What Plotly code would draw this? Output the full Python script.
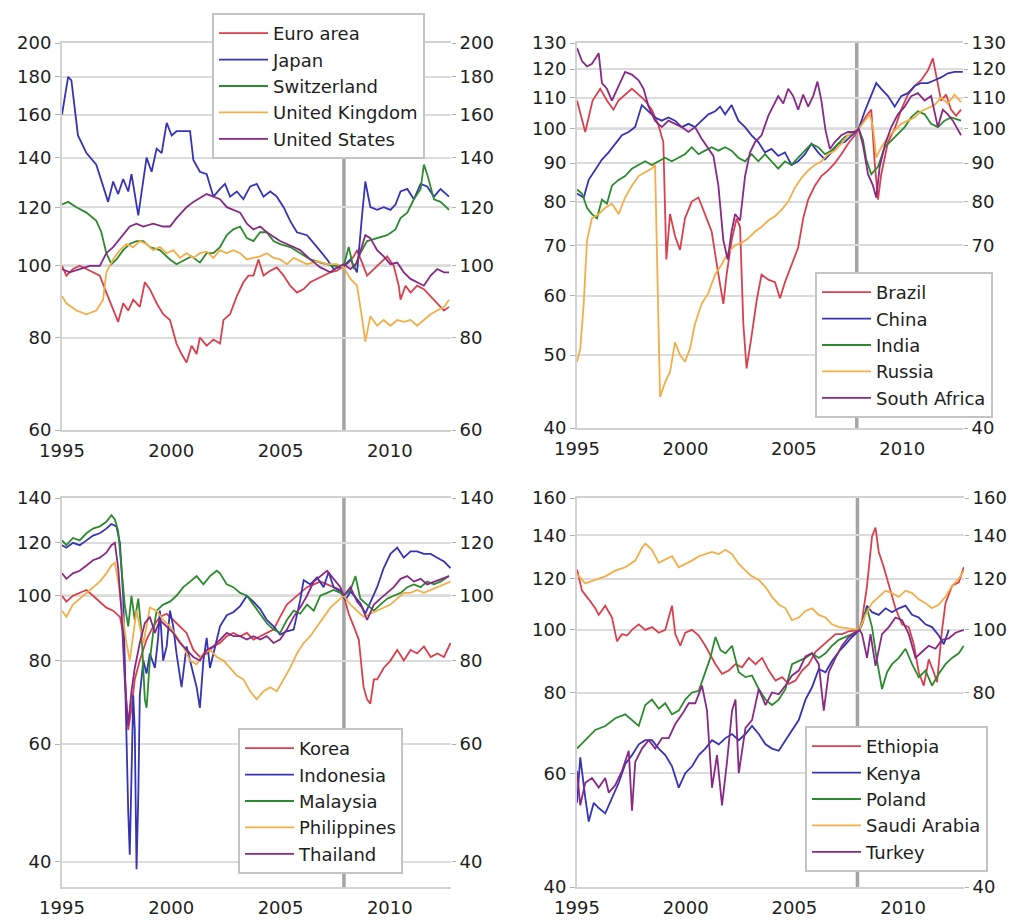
import math
import plotly.graph_objects as go

# ---------------- data (year, index 2008 = 100) ----------------
# Panel 1
EURO_AREA = [(1995.00,100),(1995.20,97),(1995.50,99),(1995.81,100),(1996.12,99),(1996.42,98),(1996.73,97),(1997.03,92),(1997.34,87.5),(1997.57,84),(1997.80,89),(1998.03,87),(1998.26,90),(1998.56,88),(1998.79,95),(1999.02,93),(1999.33,89),(1999.63,86),(1999.94,84.5),(2000.24,78.5),(2000.47,76),(2000.70,74),(2000.93,78),(2001.16,76),(2001.31,80),(2001.62,78),(2001.93,79.5),(2002.23,78.5),(2002.39,84.5),(2002.69,86),(2003.00,91),(2003.30,95),(2003.53,97),(2003.76,97),(2003.99,102),(2004.22,97),(2004.53,98.5),(2004.83,99.5),(2005.14,97),(2005.44,94),(2005.75,92),(2006.06,93),(2006.36,95),(2006.67,96),(2006.97,97),(2007.28,98),(2007.58,98.5),(2007.89,100),(2008.12,101),(2008.35,103),(2008.50,105),(2008.73,101),(2008.96,97),(2009.27,99),(2009.57,101),(2009.88,103),(2010.18,100),(2010.41,94),(2010.49,90),(2010.72,94),(2010.95,92),(2011.25,94),(2011.56,93),(2011.87,91),(2012.17,89),(2012.48,87),(2012.71,88)]
JAPAN = [(1995.00,160),(1995.28,180),(1995.43,178),(1995.73,150),(1996.12,142),(1996.57,137),(1997.11,122),(1997.34,130),(1997.57,125),(1997.80,131),(1998.03,126),(1998.18,133),(1998.49,117),(1998.72,130),(1998.87,140),(1999.10,134),(1999.33,144),(1999.56,142),(1999.79,156),(2000.02,150),(2000.24,152),(2000.47,152),(2000.86,152),(2001.01,139),(2001.31,134),(2001.62,133),(2001.93,124),(2002.23,127),(2002.46,129),(2002.69,124),(2003.00,126),(2003.30,123),(2003.61,128),(2003.91,129),(2004.22,124),(2004.53,126),(2004.83,124),(2005.14,120),(2005.44,115),(2005.75,111),(2006.21,110),(2006.67,106),(2007.13,102),(2007.43,99),(2007.89,100),(2008.20,102),(2008.50,98),(2008.73,117),(2008.88,130),(2009.11,120),(2009.42,119),(2009.72,120),(2010.03,119),(2010.26,121),(2010.49,126),(2010.80,127),(2011.10,123),(2011.41,129),(2011.71,128),(2012.02,124),(2012.32,127),(2012.71,124)]
SWITZERLAND = [(1995.00,121),(1995.28,122),(1995.66,120),(1996.12,118),(1996.57,115),(1996.80,111),(1997.03,104),(1997.26,100.5),(1997.49,102),(1997.80,105),(1998.10,107),(1998.41,108),(1998.72,108),(1999.02,106),(1999.48,105),(1999.94,102),(2000.24,100.5),(2000.63,102),(2000.93,103),(2001.31,101),(2001.62,104),(2001.93,104),(2002.23,106),(2002.54,110),(2002.84,112),(2003.15,113),(2003.46,109),(2003.76,108),(2004.07,111),(2004.37,111),(2004.68,108),(2004.98,107),(2005.44,106),(2005.90,104),(2006.36,102),(2006.82,101),(2007.43,100),(2007.89,100),(2008.12,106),(2008.35,99),(2008.65,104),(2008.96,108),(2009.42,109),(2009.88,110),(2010.26,112),(2010.49,116),(2010.80,118),(2011.10,123),(2011.41,127),(2011.56,137),(2011.71,133),(2012.02,123),(2012.32,122),(2012.71,119)]
UNITED_KINGDOM = [(1995.00,91),(1995.20,89),(1995.66,87),(1996.12,86),(1996.57,87),(1996.88,90),(1997.03,98),(1997.34,102),(1997.65,105),(1997.95,107),(1998.26,106),(1998.56,108),(1998.87,107),(1999.17,105),(1999.48,106),(1999.79,104),(2000.09,105),(2000.40,102.5),(2000.70,104),(2001.01,102.5),(2001.31,104),(2001.62,104.5),(2001.93,102.5),(2002.23,105),(2002.54,104),(2002.84,105),(2003.15,104),(2003.46,102),(2003.76,102.5),(2004.07,103),(2004.37,104),(2004.68,102.5),(2004.98,102),(2005.29,100.5),(2005.60,102.5),(2005.90,101.5),(2006.21,100.5),(2006.67,101.5),(2007.13,100.5),(2007.58,100.5),(2007.89,99.5),(2008.20,96),(2008.50,94),(2008.73,85),(2008.88,79),(2009.11,85.5),(2009.42,83),(2009.72,84.5),(2010.03,83),(2010.34,84.5),(2010.64,84),(2010.95,84.5),(2011.25,83),(2011.56,84.5),(2011.87,86),(2012.17,87),(2012.48,88),(2012.71,90)]
UNITED_STATES = [(1995.00,99),(1995.35,98),(1995.81,99),(1996.27,100),(1996.73,100),(1997.03,104),(1997.34,106),(1997.80,110),(1998.10,113),(1998.41,114),(1998.72,113),(1999.17,114),(1999.63,113),(1999.94,113),(2000.24,116),(2000.70,120),(2001.01,122),(2001.31,123.5),(2001.62,125),(2001.93,124),(2002.23,123),(2002.54,120),(2002.84,119),(2003.15,118),(2003.46,114),(2003.76,112),(2004.07,113),(2004.37,111),(2004.68,109.5),(2004.98,108),(2005.29,107),(2005.60,106),(2005.90,105),(2006.36,102),(2006.82,99.5),(2007.28,98),(2007.58,99.5),(2007.89,100.5),(2008.20,99),(2008.50,101),(2008.73,106),(2008.88,110),(2009.11,109),(2009.42,105),(2009.72,103),(2010.03,100.5),(2010.34,101),(2010.64,98),(2010.95,96),(2011.25,95),(2011.56,94),(2011.87,97),(2012.17,99),(2012.48,98),(2012.71,98)]

# Panel 2
BRAZIL = [(1995.00,109),(1995.38,99),(1995.72,109),(1996.07,113),(1996.38,109),(1996.68,106),(1996.91,109),(1997.22,111),(1997.53,113),(1997.84,111),(1998.14,109),(1998.45,106),(1998.76,101),(1998.98,96),(1999.12,67),(1999.29,77),(1999.52,72),(1999.75,69),(1999.98,76),(2000.29,80),(2000.60,81),(2000.90,77),(2001.21,73),(2001.52,64),(2001.75,58.5),(2001.90,64),(2002.13,71),(2002.36,76),(2002.52,74),(2002.67,55),(2002.82,48),(2003.05,53),(2003.28,59),(2003.51,64),(2003.82,63),(2004.13,62.5),(2004.36,59.5),(2004.59,62.5),(2004.89,66),(2005.20,69.5),(2005.43,76),(2005.66,80.5),(2005.97,84),(2006.27,86.5),(2006.58,88),(2006.89,90),(2007.19,92.5),(2007.50,95.5),(2007.81,98),(2007.99,100),(2008.19,102),(2008.34,104),(2008.57,106),(2008.73,90),(2008.88,80.5),(2009.03,87),(2009.19,91.5),(2009.34,96),(2009.65,100),(2009.95,106),(2010.26,111),(2010.57,114),(2010.87,116),(2011.18,119.5),(2011.41,124),(2011.64,114),(2011.79,109),(2012.02,111),(2012.25,106),(2012.48,104),(2012.71,106)]
CHINA = [(1995.00,82),(1995.31,81),(1995.54,85.5),(1995.84,88),(1996.15,91),(1996.46,93),(1996.76,95.5),(1997.07,98),(1997.38,99),(1997.68,100.5),(1997.99,107.5),(1998.30,105.5),(1998.60,103.5),(1998.91,102.5),(1999.22,103.5),(1999.52,102.5),(1999.83,100.5),(2000.14,101.5),(2000.44,100.5),(2000.75,102.5),(2001.06,104.5),(2001.37,105.5),(2001.60,107),(2001.83,104.5),(2002.13,107.5),(2002.44,102.5),(2002.75,100.5),(2003.05,98),(2003.36,96),(2003.67,93),(2003.97,94),(2004.28,92),(2004.59,93),(2004.89,89.5),(2005.20,90.5),(2005.51,92.5),(2005.81,95.5),(2006.12,93),(2006.43,91),(2006.73,93),(2007.04,95.5),(2007.35,96),(2007.65,98),(2007.99,100),(2008.27,105.5),(2008.57,110.5),(2008.80,115),(2009.03,113),(2009.34,110.5),(2009.65,107),(2009.95,110.5),(2010.26,111.5),(2010.57,114),(2010.87,115),(2011.18,115),(2011.49,116),(2011.79,117),(2012.10,118.5),(2012.41,119),(2012.79,119)]
INDIA = [(1995.00,83),(1995.23,82),(1995.46,78.5),(1995.69,77),(1995.92,76),(1996.15,80.5),(1996.38,79.5),(1996.61,84),(1996.92,85.5),(1997.22,86.5),(1997.53,88.5),(1997.84,89.5),(1998.14,90.5),(1998.45,89.5),(1998.76,90.5),(1999.06,91.5),(1999.37,90.5),(1999.68,91.5),(1999.98,92.5),(2000.29,94.5),(2000.60,92.5),(2000.90,93.5),(2001.21,94.5),(2001.52,93.5),(2001.83,94.5),(2002.13,93.5),(2002.44,91.5),(2002.75,90.5),(2003.05,92.5),(2003.36,90.5),(2003.67,92.5),(2003.97,90.5),(2004.28,88.5),(2004.59,90.5),(2004.89,89.5),(2005.20,91.5),(2005.51,93.5),(2005.81,95.5),(2006.12,94.5),(2006.43,92.5),(2006.73,93.5),(2007.04,95.5),(2007.35,97.5),(2007.65,98.5),(2007.99,100),(2008.19,96.5),(2008.34,91),(2008.57,87),(2008.88,89),(2009.19,94.5),(2009.49,96.5),(2009.80,98.5),(2010.11,100.5),(2010.41,103.5),(2010.72,105.5),(2011.03,104.5),(2011.33,101.5),(2011.64,100.5),(2011.95,102.5),(2012.25,103.5),(2012.71,102.5)]
RUSSIA = [(1995.00,49),(1995.15,51),(1995.31,58.5),(1995.46,71),(1995.69,76),(1996.00,77),(1996.30,78.5),(1996.61,79.5),(1996.92,77),(1997.22,81),(1997.53,84),(1997.84,86.5),(1998.14,87.5),(1998.45,88.5),(1998.60,89.5),(1998.73,58.5),(1998.83,44),(1999.06,46),(1999.29,47.5),(1999.52,52),(1999.75,50),(1999.98,49),(2000.21,51),(2000.44,55),(2000.75,58.5),(2001.06,60.5),(2001.37,64),(2001.67,66),(2001.98,68.5),(2002.29,70),(2002.59,70.5),(2002.90,71.5),(2003.21,73),(2003.51,74),(2003.82,75.5),(2004.13,76.5),(2004.43,78),(2004.74,80),(2005.05,83.5),(2005.35,86),(2005.66,88),(2005.97,89.5),(2006.27,90.5),(2006.58,92.5),(2006.89,93.5),(2007.19,95.5),(2007.50,98),(2007.99,100),(2008.27,102.5),(2008.50,104.5),(2008.65,100.5),(2008.80,91.5),(2009.03,94.5),(2009.34,97.5),(2009.65,99.5),(2009.95,101.5),(2010.26,102.5),(2010.57,103.5),(2010.87,105.5),(2011.18,106.5),(2011.49,107.5),(2011.79,110),(2012.10,108),(2012.41,111),(2012.71,108.5)]
SOUTH_AFRICA = [(1995.00,128),(1995.23,123),(1995.46,121),(1995.69,122),(1996.00,126),(1996.15,115),(1996.38,113),(1996.61,109),(1996.92,114),(1997.22,119),(1997.53,118),(1997.84,116),(1998.07,113),(1998.30,107),(1998.60,102.5),(1998.91,100.5),(1999.22,102.5),(1999.52,101.5),(1999.83,100.5),(2000.14,99),(2000.44,100.5),(2000.75,97),(2001.06,94),(2001.29,92),(2001.52,84),(2001.75,71),(2001.95,67),(2002.13,73),(2002.29,77),(2002.52,75.5),(2002.75,86.5),(2002.98,93),(2003.21,96),(2003.51,98),(2003.82,104),(2004.05,107),(2004.28,110.5),(2004.51,108),(2004.74,113),(2004.97,110.5),(2005.20,106),(2005.43,111),(2005.66,107),(2005.89,110.5),(2006.09,115.5),(2006.27,109),(2006.46,99.5),(2006.66,94),(2006.89,96),(2007.19,98),(2007.50,99),(2007.81,99),(2007.99,100),(2008.19,95),(2008.42,87),(2008.65,84),(2008.80,81),(2008.96,89),(2009.19,95),(2009.49,100.5),(2009.80,104.5),(2010.11,107),(2010.41,110.5),(2010.72,111.5),(2011.03,109),(2011.33,110.5),(2011.64,100.5),(2011.87,106),(2012.10,104.5),(2012.33,102.5),(2012.71,98)]

# Panel 3
KOREA = [(1995.00,100),(1995.20,98),(1995.50,100),(1995.81,101),(1996.12,102),(1996.42,100),(1996.73,98),(1997.03,96),(1997.34,95),(1997.65,93),(1997.80,88),(1997.95,68),(1998.03,63),(1998.18,68),(1998.33,75),(1998.56,80),(1998.87,86),(1999.17,90),(1999.48,93),(1999.79,94),(2000.09,92),(2000.40,90),(2000.70,88),(2001.01,83),(2001.31,81),(2001.62,82),(2001.93,84),(2002.23,85),(2002.54,87),(2002.84,88),(2003.15,87),(2003.46,88),(2003.76,86),(2004.07,87),(2004.37,88),(2004.68,89),(2004.98,93),(2005.29,97),(2005.60,99),(2005.90,101),(2006.21,103),(2006.52,104),(2006.82,105),(2007.13,104),(2007.43,103),(2007.74,102),(2007.89,100),(2008.12,94),(2008.35,90),(2008.58,86),(2008.80,73),(2008.96,70),(2009.11,69),(2009.27,75),(2009.42,75),(2009.72,78),(2010.03,80),(2010.34,83),(2010.64,80),(2010.95,83),(2011.25,82),(2011.56,84),(2011.87,81),(2012.17,82),(2012.48,81),(2012.78,85)]
INDONESIA = [(1995.00,119),(1995.20,118),(1995.50,120),(1995.81,119),(1996.12,121),(1996.42,123),(1996.73,124),(1997.03,126),(1997.26,128),(1997.49,127),(1997.65,120),(1997.80,100),(1997.87,80),(1997.95,60),(1998.03,47.5),(1998.10,41),(1998.18,57),(1998.26,71),(1998.33,63),(1998.41,39),(1998.49,50),(1998.56,71),(1998.72,80),(1998.87,76.5),(1999.02,82),(1999.25,78),(1999.40,86.5),(1999.48,95),(1999.63,80),(1999.79,84),(1999.94,95),(2000.09,90),(2000.24,82),(2000.47,73),(2000.70,84),(2000.93,78),(2001.16,73),(2001.31,68),(2001.47,80),(2001.62,86.5),(2001.77,78),(2001.93,82),(2002.23,90),(2002.54,93.5),(2002.84,94.5),(2003.15,96.5),(2003.46,100),(2003.76,98),(2004.07,95.5),(2004.37,92),(2004.68,90),(2004.98,87.5),(2005.29,88.5),(2005.60,89),(2005.90,98.5),(2006.06,105.5),(2006.36,104),(2006.67,106.5),(2006.97,103),(2007.20,108.5),(2007.43,103),(2007.74,101.5),(2007.97,98.5),(2008.20,101.5),(2008.43,99.5),(2008.65,97.5),(2008.88,94),(2009.11,97.5),(2009.42,103),(2009.72,110),(2010.03,115.5),(2010.34,118),(2010.64,114),(2010.95,116.5),(2011.25,116.5),(2011.56,115.5),(2011.87,115.5),(2012.17,114),(2012.48,112.5),(2012.78,110)]
MALAYSIA = [(1995.00,121),(1995.20,119),(1995.50,122),(1995.81,121),(1996.12,124),(1996.42,126),(1996.73,127),(1997.03,129),(1997.26,132),(1997.42,130),(1997.57,125),(1997.72,110),(1997.87,97),(1998.03,90),(1998.18,100),(1998.33,92),(1998.49,99),(1998.64,88),(1998.79,70),(1998.87,68),(1999.02,80),(1999.17,88),(1999.33,95),(1999.63,97),(1999.94,98),(2000.24,100),(2000.55,103),(2000.86,105),(2001.16,107),(2001.47,104),(2001.77,107),(2002.08,109),(2002.23,108),(2002.54,104),(2002.84,103),(2003.15,101),(2003.46,100),(2003.76,97),(2004.07,94),(2004.37,91),(2004.68,89),(2004.98,88),(2005.29,92),(2005.60,95),(2005.90,94),(2006.21,97),(2006.52,95),(2006.82,100),(2007.13,101),(2007.43,102),(2007.74,101),(2007.89,100),(2008.20,102),(2008.43,107),(2008.65,99),(2008.96,97),(2009.27,95),(2009.57,97),(2009.88,99),(2010.18,100),(2010.49,101),(2010.80,103),(2011.10,104),(2011.41,103),(2011.71,105),(2012.02,104),(2012.32,105),(2012.71,107)]
PHILIPPINES = [(1995.00,95),(1995.20,93),(1995.50,97),(1995.81,99),(1996.12,101),(1996.42,103),(1996.73,105),(1997.03,108),(1997.26,111),(1997.42,112),(1997.57,105),(1997.80,92),(1997.95,85),(1998.10,80),(1998.26,88),(1998.41,95),(1998.56,90),(1998.72,85),(1998.87,90),(1999.02,96),(1999.33,95),(1999.63,92),(1999.94,90),(2000.24,87),(2000.55,84),(2000.86,80),(2001.16,79),(2001.47,82),(2001.77,83),(2002.08,81),(2002.39,80),(2002.69,78),(2003.00,76),(2003.30,75),(2003.61,72),(2003.91,70),(2004.22,72),(2004.53,73),(2004.83,72),(2005.14,75),(2005.44,78),(2005.75,82),(2006.06,85),(2006.36,87),(2006.67,90),(2006.97,93),(2007.28,96),(2007.58,98),(2007.89,100),(2008.20,97),(2008.50,95),(2008.80,93),(2009.11,94),(2009.42,95),(2009.72,96),(2010.03,97),(2010.34,99),(2010.64,101),(2010.95,101),(2011.25,102),(2011.56,101),(2011.87,102),(2012.17,103),(2012.48,104),(2012.78,105)]
THAILAND = [(1995.00,108),(1995.20,106),(1995.50,108),(1995.81,109),(1996.12,111),(1996.42,113),(1996.73,114),(1997.03,116),(1997.26,119),(1997.42,120),(1997.57,110),(1997.72,95),(1997.87,75),(1998.03,64),(1998.18,72),(1998.33,78),(1998.56,85),(1998.79,91),(1999.02,93),(1999.25,88),(1999.48,92),(1999.79,90),(2000.09,88),(2000.40,85),(2000.70,83),(2001.01,81),(2001.31,80),(2001.62,83),(2001.93,84),(2002.23,86),(2002.54,88),(2002.84,87),(2003.15,87),(2003.46,86),(2003.76,87),(2004.07,86),(2004.37,87),(2004.68,85),(2004.98,86),(2005.29,89),(2005.60,93),(2005.90,96),(2006.21,100),(2006.52,105),(2006.82,107),(2007.13,109),(2007.43,106),(2007.74,103),(2007.89,100),(2008.20,103),(2008.50,98),(2008.73,96),(2008.96,92),(2009.27,97),(2009.57,99),(2009.88,101),(2010.18,103),(2010.49,106),(2010.80,107),(2011.10,105),(2011.41,106),(2011.71,104),(2012.02,105),(2012.32,106),(2012.71,107)]

# Panel 4
ETHIOPIA = [(1995.00,124),(1995.23,115),(1995.54,111.5),(1995.84,108),(1996.00,105.5),(1996.30,109),(1996.61,104.5),(1996.84,96),(1997.07,98.5),(1997.30,98),(1997.53,100),(1997.84,102),(1998.14,100),(1998.45,101),(1998.76,99),(1999.06,100),(1999.37,109),(1999.52,98.5),(1999.75,94.5),(1999.98,99),(2000.29,100),(2000.60,98),(2000.90,94.5),(2001.13,91.5),(2001.37,88.5),(2001.67,85.5),(2001.98,86.5),(2002.29,88.5),(2002.59,87.5),(2002.90,90.5),(2003.21,88.5),(2003.51,90.5),(2003.82,86.5),(2004.13,83.5),(2004.43,84.5),(2004.74,82.5),(2005.05,83.5),(2005.35,86.5),(2005.66,88.5),(2005.97,92.5),(2006.27,94.5),(2006.58,96.5),(2006.89,98.5),(2007.19,98.5),(2007.50,99.5),(2007.99,100),(2008.11,103.5),(2008.34,117),(2008.57,139.5),(2008.73,144),(2008.88,132),(2009.11,125),(2009.34,117),(2009.65,108),(2009.95,102),(2010.26,101),(2010.49,95),(2010.72,86),(2010.95,82),(2011.18,90),(2011.41,86),(2011.56,83),(2011.79,100),(2011.95,110),(2012.25,117),(2012.56,118.5),(2012.79,125)]
KENYA = [(1995.00,54),(1995.15,63.5),(1995.38,55),(1995.54,50.5),(1995.77,54),(1996.00,53),(1996.30,52),(1996.61,55),(1996.92,58),(1997.22,62),(1997.53,64),(1997.84,66.5),(1998.14,67.5),(1998.45,67.5),(1998.76,65.5),(1999.06,64),(1999.37,61.5),(1999.68,57),(1999.98,60),(2000.29,61.5),(2000.60,64),(2000.90,65.5),(2001.21,67.5),(2001.52,66.5),(2001.83,68),(2002.13,69),(2002.44,67.5),(2002.75,69),(2003.05,71),(2003.36,69),(2003.67,66.5),(2003.97,65.5),(2004.28,65),(2004.59,67.5),(2004.89,70),(2005.20,72.5),(2005.51,78),(2005.81,81.5),(2006.12,87),(2006.43,86),(2006.73,89.5),(2007.04,92.5),(2007.35,95),(2007.65,97.5),(2007.99,100),(2008.11,102),(2008.34,109),(2008.57,106.5),(2008.88,105.5),(2009.19,108),(2009.49,106.5),(2009.80,108),(2010.11,109),(2010.41,105.5),(2010.72,104.5),(2011.03,102),(2011.33,101),(2011.64,98),(2011.87,95),(2012.10,100)]
POLAND = [(1995.00,65.5),(1995.38,67.5),(1995.84,70),(1996.30,71),(1996.76,73),(1997.22,74),(1997.84,71),(1998.14,76.5),(1998.45,78),(1998.76,75.5),(1999.06,77),(1999.37,74),(1999.68,75),(1999.98,78),(2000.29,80),(2000.60,80.5),(2000.90,86),(2001.13,90.5),(2001.37,97.5),(2001.60,93),(2001.83,92),(2002.13,94.5),(2002.44,86),(2002.75,84.5),(2003.05,85),(2003.36,81),(2003.67,78),(2003.97,76.5),(2004.28,78),(2004.59,81),(2004.89,88.5),(2005.20,89.5),(2005.51,90.5),(2005.81,92),(2006.12,90.5),(2006.43,92),(2006.73,94.5),(2007.04,96.5),(2007.35,97.5),(2007.65,98.5),(2007.99,100),(2008.11,102),(2008.34,108),(2008.57,101),(2008.80,89.5),(2009.03,81),(2009.26,86),(2009.49,88.5),(2009.80,90.5),(2010.11,93.5),(2010.41,88.5),(2010.72,84.5),(2011.03,86.5),(2011.33,82),(2011.64,85.5),(2011.95,88.5),(2012.25,90.5),(2012.56,92),(2012.79,94.5)]
SAUDI_ARABIA = [(1995.00,122),(1995.38,118),(1995.84,119.5),(1996.30,121),(1996.76,123.5),(1997.22,125),(1997.68,128),(1997.99,134),(1998.14,136),(1998.45,133),(1998.76,127),(1999.06,128.5),(1999.37,130),(1999.68,125),(1999.98,126.5),(2000.29,128),(2000.60,130),(2000.90,131),(2001.21,132),(2001.52,131),(2001.83,133),(2002.13,131),(2002.44,126.5),(2002.75,123.5),(2003.05,121),(2003.36,119.5),(2003.67,116.5),(2003.97,112.5),(2004.28,109.5),(2004.59,108),(2004.89,103.5),(2005.20,104.5),(2005.51,107),(2005.81,108),(2006.12,105.5),(2006.43,104.5),(2006.73,102),(2007.04,101),(2007.50,100.5),(2007.99,100),(2008.27,105.5),(2008.57,110),(2008.88,112.5),(2009.19,115),(2009.49,114),(2009.80,112.5),(2010.11,115),(2010.41,114),(2010.72,111.5),(2011.03,110),(2011.33,108),(2011.64,109.5),(2011.95,112.5),(2012.25,117),(2012.56,120),(2012.79,123.5)]
TURKEY = [(1995.00,60.5),(1995.15,53.5),(1995.38,58),(1995.69,59),(1996.00,57),(1996.30,59),(1996.46,56),(1996.76,57.5),(1997.07,60.5),(1997.38,65),(1997.53,52.5),(1997.68,62.5),(1997.99,65.5),(1998.30,67.5),(1998.60,65.5),(1998.91,68),(1999.22,68),(1999.52,71.5),(1999.83,74),(2000.14,77),(2000.44,77),(2000.75,82),(2000.98,75),(2001.21,57),(2001.44,64),(2001.67,53.5),(2001.90,62.5),(2002.13,75),(2002.29,78),(2002.44,60),(2002.75,70.5),(2003.05,72.5),(2003.36,81),(2003.67,76.5),(2003.97,80),(2004.28,79.5),(2004.59,82),(2004.89,85),(2005.20,86.5),(2005.51,91),(2005.81,92),(2006.12,88.5),(2006.35,75),(2006.58,86),(2006.89,90.5),(2007.19,94.5),(2007.50,97.5),(2007.99,100),(2008.11,98.5),(2008.34,90.5),(2008.50,98.5),(2008.73,88),(2009.03,98.5),(2009.34,101),(2009.65,104.5),(2009.95,103.5),(2010.26,98.5),(2010.57,90.5),(2010.87,92.5),(2011.18,94.5),(2011.49,93.5),(2011.79,96.5),(2012.10,97),(2012.41,99),(2012.79,100)]

PANELS = [
    [("Euro area", EURO_AREA), ("Japan", JAPAN), ("Switzerland", SWITZERLAND),
     ("United Kingdom", UNITED_KINGDOM), ("United States", UNITED_STATES)],
    [("Brazil", BRAZIL), ("China", CHINA), ("India", INDIA), ("Russia", RUSSIA),
     ("South Africa", SOUTH_AFRICA)],
    [("Korea", KOREA), ("Indonesia", INDONESIA), ("Malaysia", MALAYSIA),
     ("Philippines", PHILIPPINES), ("Thailand", THAILAND)],
    [("Ethiopia", ETHIOPIA), ("Kenya", KENYA), ("Poland", POLAND),
     ("Saudi Arabia", SAUDI_ARABIA), ("Turkey", TURKEY)],
]
Y_TICKS = [
    [60, 80, 100, 120, 140, 160, 180, 200],
    [40, 50, 60, 70, 80, 90, 100, 110, 120, 130],
    [40, 60, 80, 100, 120, 140],
    [40, 60, 80, 100, 120, 140, 160],
]
# right-hand tick labels that sit behind a legend box in the original
RIGHT_HIDDEN = [[], [50, 60], [], [60]]
Y_RANGES = [(60, 200), (40, 130), (36.7, 140), (40, 160)]
X_TICKS = [1995, 2000, 2005, 2010]
X_RANGE = (1995, 2012.8)
BASE_YEAR = 2007.9
BASE_VALUE = 100

# ---------------- styling ----------------
COLORS = ["#d8404e", "#3434b4", "#2e8a2e", "#f2ae48", "#862a86"]
W, H = 1011, 920
# plot boxes in page pixels: (left, right, top, bottom)
BOXES = [(62, 451, 43, 430), (577, 963, 43, 428), (62, 451, 498, 887), (577, 964, 498, 887)]
LEGEND_POS = [(212, 13), (815, 272), (238, 728), (805, 726)]
FONT = "DejaVu Sans, Arial, sans-serif"
TXT = "#1e1e1e"


def px(xp):
    return xp / W


def py(yp):
    return 1 - yp / H


fig = go.Figure()
layout = dict(
    width=W, height=H, margin=dict(l=0, r=0, t=0, b=0, autoexpand=False),
    paper_bgcolor="white", plot_bgcolor="white", font=dict(family=FONT, size=18, color=TXT),
    shapes=[],
)

for i, (series, yt, yr, box, lp, hid) in enumerate(
        zip(PANELS, Y_TICKS, Y_RANGES, BOXES, LEGEND_POS, RIGHT_HIDDEN)):
    n = i + 1
    xa = "x" if n == 1 else f"x{n}"
    ya = "y" if n == 1 else f"y{n}"
    yr_axis = f"y{n + 4}"
    lg = "legend" if n == 1 else f"legend{n}"
    l, r, t, b = box
    xdom = [px(l), px(r)]
    ydom = [py(b), py(t)]
    rng = [math.log10(yr[0]), math.log10(yr[1])]

    for k, (name, pts) in enumerate(series):
        fig.add_trace(go.Scatter(
            x=[p[0] for p in pts], y=[p[1] for p in pts], name=name, mode="lines",
            line=dict(color=COLORS[k], width=1.8), xaxis=xa, yaxis=ya, legend=lg,
            hoverinfo="skip",
        ))
    # right-hand axis shares the same scale: carry the first series on it, invisibly
    first = series[0][1]
    fig.add_trace(go.Scatter(
        x=[p[0] for p in first], y=[p[1] for p in first], mode="lines",
        line=dict(color="rgba(0,0,0,0)", width=0), xaxis=xa, yaxis=yr_axis,
        showlegend=False, hoverinfo="skip",
    ))

    layout["xaxis" if n == 1 else f"xaxis{n}"] = dict(
        domain=xdom, anchor=ya, range=list(X_RANGE), tickvals=X_TICKS,
        showgrid=False, zeroline=False, showline=True, mirror=True,
        linecolor="#d2d2d2", linewidth=2, ticks="outside", ticklen=3,
        tickcolor="rgba(0,0,0,0)", tickfont=dict(size=18, color=TXT),
    )
    common_y = dict(type="log", range=rng, tickvals=yt,
                    zeroline=False, ticks="outside", tickcolor="#b0b0b0",
                    tickfont=dict(size=18, color=TXT))
    layout["yaxis" if n == 1 else f"yaxis{n}"] = dict(
        domain=ydom, anchor=xa, side="left", showgrid=True, gridcolor="#dcdcdc",
        gridwidth=2, showline=True, linecolor="#d2d2d2", linewidth=2, ticklen=5,
        ticktext=[str(v) for v in yt], **common_y)
    layout[f"yaxis{n + 4}"] = dict(
        anchor=xa, overlaying=ya, side="right", showgrid=False, showline=False, ticklen=4,
        ticktext=["" if v in hid else str(v) for v in yt], **common_y)

    layout["shapes"].append(dict(
        type="line", xref=xa, yref=f"{ya} domain", x0=BASE_YEAR, x1=BASE_YEAR, y0=0, y1=1,
        line=dict(color="#a4a4a4", width=3.5), layer="below"))
    layout["shapes"].append(dict(
        type="line", xref=f"{xa} domain", yref=ya, x0=0, x1=1, y0=BASE_VALUE, y1=BASE_VALUE,
        line=dict(color="#8a8a8a", width=2), layer="below"))

    layout[lg] = dict(
        x=px(lp[0]), y=py(lp[1]), xanchor="left", yanchor="top",
        bgcolor="white", bordercolor="#c4c4c4", borderwidth=2,
        font=dict(family=FONT, size=18, color=TXT), itemwidth=49,
        tracegroupgap=0, traceorder="normal",
    )

fig.update_layout(**layout)
# the page's default 8px body margin would push the 1011x920 figure out of the window
fig.write_html("out.html", config={"displayModeBar": False},
               post_script="document.body.style.margin='0px';")
